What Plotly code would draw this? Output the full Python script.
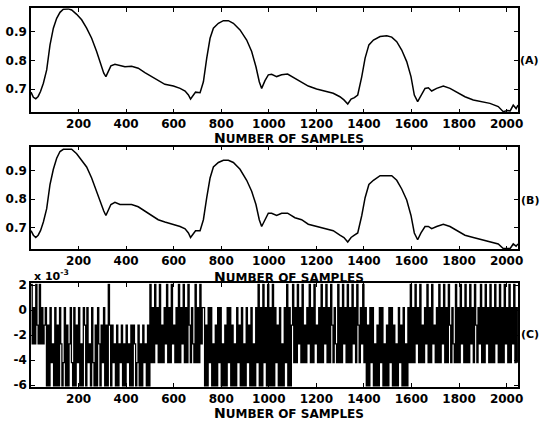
import plotly.graph_objects as go

# ---- data ----
samples = [0, 10, 20, 30, 40, 52, 66, 80, 94, 108,
           122, 136, 157, 171, 192, 213, 234, 255, 276, 294,
           306, 315, 325, 336, 353, 374, 395, 423, 451, 479,
           508, 535, 563, 599, 627, 648, 662, 671, 683, 692,
           711, 725, 739, 753, 767, 788, 809, 830, 851, 879,
           907, 928, 946, 960, 970, 984, 998, 1012, 1033, 1054,
           1079, 1110, 1138, 1166, 1201, 1236, 1271, 1299, 1316, 1332,
           1346, 1360, 1374, 1391, 1405, 1421, 1440, 1468, 1496, 1517,
           1538, 1559, 1580, 1598, 1612, 1626, 1640, 1657, 1671, 1685,
           1706, 1734, 1762, 1790, 1825, 1860, 1895, 1930, 1965, 1986,
           2003, 2015, 2028, 2040, 2048]

signal_a = [0.690, 0.672, 0.667, 0.675, 0.692, 0.721, 0.767, 0.854, 0.912, 0.946,
            0.967, 0.978, 0.979, 0.975, 0.960, 0.941, 0.912, 0.877, 0.831, 0.784,
            0.756, 0.744, 0.761, 0.781, 0.787, 0.782, 0.778, 0.780, 0.773, 0.758,
            0.744, 0.729, 0.717, 0.711, 0.703, 0.694, 0.680, 0.666, 0.680, 0.690,
            0.688, 0.726, 0.808, 0.877, 0.912, 0.929, 0.938, 0.938, 0.929, 0.906,
            0.871, 0.831, 0.778, 0.726, 0.703, 0.730, 0.750, 0.752, 0.744, 0.750,
            0.753, 0.738, 0.723, 0.711, 0.701, 0.694, 0.686, 0.674, 0.663, 0.649,
            0.666, 0.671, 0.680, 0.744, 0.808, 0.854, 0.871, 0.883, 0.886, 0.881,
            0.865, 0.836, 0.796, 0.744, 0.680, 0.657, 0.680, 0.703, 0.705, 0.694,
            0.703, 0.711, 0.703, 0.690, 0.674, 0.663, 0.657, 0.651, 0.640, 0.622,
            0.626, 0.625, 0.645, 0.633, 0.645]

signal_b = [0.688, 0.672, 0.664, 0.672, 0.688, 0.719, 0.766, 0.852, 0.906, 0.945,
            0.969, 0.977, 0.977, 0.977, 0.961, 0.938, 0.914, 0.875, 0.828, 0.781,
            0.758, 0.742, 0.758, 0.781, 0.789, 0.781, 0.781, 0.781, 0.773, 0.758,
            0.742, 0.727, 0.719, 0.711, 0.703, 0.695, 0.680, 0.664, 0.680, 0.688,
            0.688, 0.727, 0.805, 0.875, 0.914, 0.930, 0.938, 0.938, 0.930, 0.906,
            0.867, 0.828, 0.781, 0.727, 0.703, 0.727, 0.750, 0.750, 0.742, 0.750,
            0.750, 0.734, 0.727, 0.711, 0.703, 0.695, 0.688, 0.672, 0.664, 0.648,
            0.664, 0.672, 0.680, 0.742, 0.805, 0.852, 0.867, 0.883, 0.883, 0.883,
            0.867, 0.836, 0.797, 0.742, 0.680, 0.656, 0.680, 0.703, 0.703, 0.695,
            0.703, 0.711, 0.703, 0.688, 0.672, 0.664, 0.656, 0.648, 0.641, 0.625,
            0.625, 0.625, 0.641, 0.633, 0.641]

# quantisation error (x 10^-3): discrete levels, one code per 5 samples
err_levels = [2.05, 0.2, -1.2, -2.7, -4.2, -6.05]
err_step = 5
err_codes = (
    "0313023031 32"
    "1525143515 2513541525 3145152415 3512514351 4525135241 525"
    "0"
    "2524352534 2535243525 2354253524 3525"
    "0414031404 2413041403 2414041304 1402413404 14031"
    "1525141535 2514153525 1415253514 2515351425 153514"
    "0515041505"
    "1505142515 351405152"
    "0414031404 2413041403 2414041304 1402413404 1403140414 0314024130 4"
    "1525141535 2514153525 1415253514 25153514"
    "0414031404 2413041403 2414041304 1402413404 1403140414 0314024130 "
    "4140314041 4031404140 3140413041 4"
)

x_ticks = [200, 400, 600, 800, 1000, 1200, 1400, 1600, 1800, 2000]
y_ticks_ab = [0.7, 0.8, 0.9]
y_ticks_c = [2, 0, -2, -4, -6]
panel_labels = ["(A)", "(B)", "(C)"]
x_title = "<span style='font-size:14px'>N</span>UMBER OF SAMPLES"

err_values = [err_levels[int(c)] for c in err_codes.replace(" ", "")]
err_x = [err_step * i for i in range(len(err_values))]

fig = go.Figure()
fig.add_trace(go.Scatter(x=samples, y=signal_a, mode="lines",
                         line=dict(color="black", width=1.5), xaxis="x", yaxis="y"))
fig.add_trace(go.Scatter(x=samples, y=signal_b, mode="lines",
                         line=dict(color="black", width=1.5), xaxis="x2", yaxis="y2"))
fig.add_trace(go.Scatter(x=err_x, y=err_values, mode="lines",
                         line=dict(color="black", width=1.3, shape="hv"), xaxis="x3", yaxis="y3"))

tickfont = dict(family="DejaVu Sans", size=12, color="black", weight="bold")
ax_common = dict(showline=True, linecolor="black", linewidth=1.5, mirror="ticks",
                 ticks="inside", ticklen=4, tickcolor="black", tickwidth=1,
                 showgrid=False, zeroline=False, tickfont=tickfont, automargin=False)

xa = dict(range=[0, 2048], tickvals=x_ticks, ticktext=[str(v) for v in x_ticks], **ax_common)

fig.update_layout(
    width=541, height=421,
    margin=dict(l=31, r=23, t=8, b=34, autoexpand=False),
    paper_bgcolor="white", plot_bgcolor="white",
    showlegend=False,
    xaxis=dict(domain=[0, 1], anchor="y", **xa),
    xaxis2=dict(domain=[0, 1], anchor="y2", **xa),
    xaxis3=dict(domain=[0, 1], anchor="y3", **xa),
    yaxis=dict(domain=[0.7248, 0.9992], anchor="x", range=[0.620, 0.981],
               tickvals=y_ticks_ab, ticktext=["0.7", "0.8", "0.9"], **ax_common),
    yaxis2=dict(domain=[0.3633, 0.6340], anchor="x2", range=[0.622, 0.986],
                tickvals=y_ticks_ab, ticktext=["0.7", "0.8", "0.9"], **ax_common),
    yaxis3=dict(domain=[0.0, 0.2736], anchor="x3", range=[-6.14, 2.14],
                tickvals=y_ticks_c, ticktext=[str(v) for v in y_ticks_c], **ax_common),
)

title_font = dict(family="DejaVu Sans", size=12, color="black", weight="bold")
for ty in [0.6570, 0.2915, -0.0680]:
    fig.add_annotation(text=x_title, xref="paper", yref="paper", x=0.530, y=ty,
                       showarrow=False, font=title_font, xanchor="center", yanchor="middle")

label_font = dict(family="DejaVu Sans", size=11, color="black", weight="bold")
for lab, ly in zip(panel_labels, [0.8602, 0.4934, 0.1398]):
    fig.add_annotation(text=lab, xref="paper", yref="paper", x=1.0246, y=ly,
                       showarrow=False, font=label_font, xanchor="center", yanchor="middle")

fig.add_annotation(text="x 10<sup>-3</sup>", xref="paper", yref="paper", x=0.002, y=0.2930,
                   showarrow=False, font=dict(family="DejaVu Sans", size=11, color="black", weight="bold"),
                   xanchor="left", yanchor="middle")

fig.write_html("out.html", config={"displayModeBar": False},
               post_script="document.body.style.margin='0px';")
